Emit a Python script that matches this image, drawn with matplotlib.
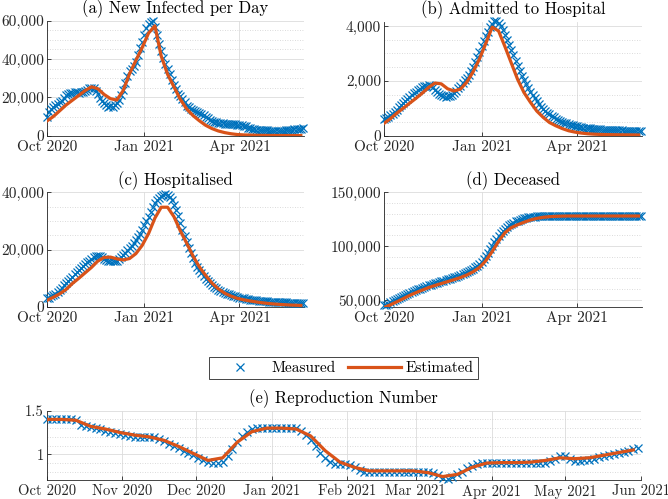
import numpy as np
import pandas as pd
import matplotlib
matplotlib.use("Agg")
import matplotlib.pyplot as plt
import matplotlib.dates as mdates
from matplotlib.ticker import FuncFormatter, MultipleLocator, FixedLocator

plt.rcParams["font.family"] = ["cmr10", "DejaVu Serif"]
plt.rcParams["axes.formatter.use_mathtext"] = True

BLUE = "#0072BD"
ORANGE = "#D95319"

START = "2020-10-01"

# ---------------------------------------------------------------------------
# Data read off the reference (measured every 2 days, estimated every 6 days)
# ---------------------------------------------------------------------------
infected_meas = [
    10000, 12500, 14000, 15000, 16200, 16500, 17500, 18000, 19500, 21000,
    21500, 22300, 22500, 22800, 23000, 22500, 22800, 23000, 23500, 24000,
    24800, 25000, 24800, 23500, 21500, 19500, 18000, 16800, 15800, 15200,
    15500, 15000, 16000, 17000, 18500, 21000, 24000, 27500, 31000, 33500,
    35000, 36500, 38500, 42000, 45500, 49000, 52500, 56000, 58500, 59500,
    60000, 56500, 52500, 48000, 44000, 40500, 37500, 35000, 32000, 29000,
    26500, 24500, 22000, 20500, 19000, 17500, 15500, 15000, 14000, 13500,
    13000, 12600, 12000, 11300, 10600, 9800, 9200, 8400, 7600, 7200,
    7000, 6800, 6600, 6400, 6300, 6200, 6100, 6000, 6000, 6000,
    5800, 5700, 5500, 5200, 4800, 4200, 3800, 3500, 3300, 3100,
    3000, 3000, 2900, 2800, 2800, 2700, 2700, 2700, 2600, 2600,
    2600, 2700, 2700, 2800, 2900, 3000, 3200, 3300, 3500, 3700,
    3600, 4000,
]
infected_est = [
    7700, 10000, 13000, 16000, 18500, 21000, 23500, 25500, 24500, 21500,
    19300, 18600, 23500, 32300, 39200, 46000, 53500, 57300, 41500, 32000,
    25500, 19000, 14000, 10500, 7800, 5400, 3700, 2450, 1600, 1000,
    600, 400, 300, 200, 150, 120, 100, 90, 80, 70,
    60,
]

admitted_meas = [
    600, 630, 680, 740, 800, 860, 950, 1030, 1110, 1180,
    1260, 1340, 1420, 1490, 1550, 1610, 1660, 1710, 1760, 1800,
    1830, 1850, 1820, 1760, 1680, 1600, 1530, 1470, 1430, 1420,
    1430, 1460, 1500, 1560, 1640, 1740, 1830, 1920, 2020, 2120,
    2230, 2370, 2520, 2700, 2880, 3070, 3260, 3450, 3630, 3800,
    3950, 4080, 4180, 4200, 4120, 3990, 3850, 3680, 3500, 3310,
    3120, 2930, 2740, 2550, 2360, 2190, 2030, 1880, 1740, 1610,
    1480, 1360, 1250, 1150, 1060, 980, 910, 840, 780, 720,
    670, 620, 580, 540, 505, 475, 445, 420, 395, 375,
    355, 340, 325, 310, 295, 285, 275, 265, 255, 245,
    240, 235, 230, 225, 220, 215, 210, 205, 200, 198,
    195, 192, 190, 188, 185, 182, 180, 178, 175, 172,
    170, 168,
]
admitted_est = [
    450, 620, 820, 1000, 1180, 1360, 1550, 1760, 1920, 1890,
    1710, 1630, 1700, 1950, 2330, 2800, 3370, 3960, 3820, 3250,
    2650, 2050, 1570, 1220, 900, 670, 480, 360, 260, 180,
    130, 95, 70, 55, 45, 40, 35, 32, 30, 28,
    25,
]

hosp_meas = [
    3000, 3300, 3700, 4200, 4700, 5300, 6000, 6700, 7500, 8300,
    9100, 9900, 10600, 11400, 12200, 12900, 13600, 14200, 14900, 15600,
    16100, 16700, 17300, 17700, 17900, 17800, 17300, 16800, 16500, 16200,
    16000, 16000, 16000, 16200, 16700, 17300, 18000, 18900, 19800, 20500,
    21300, 22300, 23300, 24400, 25600, 27000, 28600, 30000, 31300, 33000,
    34800, 36200, 37300, 38100, 38800, 39200, 39400, 39000, 38300, 37300,
    35700, 33800, 31700, 29300, 27000, 24900, 22700, 20700, 18700, 17000,
    15500, 14100, 12800, 11700, 10700, 9800, 9000, 8300, 7600, 7000,
    6500, 6000, 5600, 5200, 4900, 4600, 4400, 4100, 3900, 3700,
    3500, 3300, 3100, 3000, 2800, 2700, 2600, 2500, 2400, 2300,
    2200, 2150, 2100, 2000, 1950, 1900, 1850, 1800, 1750, 1700,
    1680, 1650, 1600, 1570, 1550, 1520, 1500, 1450, 1420, 1400,
    1380, 1350,
]
hosp_est = [
    2300, 3400, 4600, 6100, 8200, 10000, 11900, 13800, 16000, 17300,
    17400, 16800, 16400, 16900, 18600, 21500, 25600, 31000, 34800, 34800,
    31500, 26600, 22300, 17800, 14000, 11000, 8300, 6300, 4800, 3800,
    3000, 2500, 2100, 1750, 1450, 1200, 1000, 850, 720, 620,
    540,
]

deceased_meas = [
    45000, 45800, 46700, 47700, 48700, 49700, 50700, 51700, 52700, 53700,
    54600, 55500, 56500, 57400, 58200, 59000, 59800, 60600, 61300, 62000,
    62800, 63500, 64200, 64800, 65500, 66100, 66700, 67300, 67900, 68500,
    69100, 69700, 70300, 71000, 71700, 72300, 73000, 73800, 74600, 75700,
    76700, 77800, 79000, 80400, 82000, 83500, 85500, 87700, 90800, 93800,
    96900, 100200, 103500, 106500, 109300, 111900, 114000, 116000, 117800, 119300,
    120700, 121900, 122900, 123800, 124500, 125200, 125800, 126300, 126700, 127000,
    127300, 127500, 127700, 127800, 127900, 128000, 128000, 128100, 128100, 128100,
    128100, 128100, 128200, 128200, 128200, 128200, 128200, 128200, 128200, 128200,
    128200, 128200, 128200, 128200, 128300, 128300, 128300, 128300, 128300, 128300,
    128300, 128300, 128300, 128300, 128300, 128300, 128300, 128300, 128300, 128300,
    128300, 128300, 128300, 128300, 128300, 128300, 128300, 128300, 128300, 128300,
    128300, 128300,
]
deceased_est = [
    43000, 45500, 48300, 51200, 54200, 56800, 59200, 61500, 63500, 65300,
    67100, 68900, 70800, 73200, 76200, 80200, 86500, 95000, 104500, 112500,
    117200, 119900, 122200, 124300, 125800, 126800, 127400, 127700, 127900, 128000,
    128000, 128000, 128000, 128000, 128000, 128000, 128000, 128000, 128000, 128000,
    128000,
]

repro_meas = [
    1.40, 1.40, 1.40, 1.40, 1.40, 1.40, 1.39, 1.34, 1.32, 1.31,
    1.30, 1.29, 1.27, 1.26, 1.24, 1.23, 1.22, 1.21, 1.20, 1.20,
    1.20, 1.20, 1.20, 1.18, 1.15, 1.12, 1.10, 1.07, 1.04, 1.02,
    0.99, 0.96, 0.93, 0.91, 0.90, 0.90, 0.91, 0.98, 1.06, 1.14,
    1.21, 1.26, 1.29, 1.30, 1.30, 1.30, 1.30, 1.30, 1.30, 1.30,
    1.30, 1.30, 1.27, 1.22, 1.16, 1.09, 1.02, 0.96, 0.91, 0.89,
    0.89, 0.89, 0.88, 0.85, 0.82, 0.80, 0.80, 0.80, 0.80, 0.80,
    0.80, 0.80, 0.80, 0.80, 0.80, 0.80, 0.80, 0.80, 0.80, 0.79,
    0.76, 0.73, 0.72, 0.74, 0.77, 0.80, 0.84, 0.87, 0.89, 0.90,
    0.90, 0.90, 0.90, 0.90, 0.90, 0.90, 0.90, 0.90, 0.90, 0.90,
    0.90, 0.90, 0.90, 0.92, 0.95, 0.98, 0.98, 0.95, 0.92, 0.92,
    0.93, 0.94, 0.95, 0.97, 0.98, 0.99, 1.00, 1.02, 1.03, 1.04,
    1.06, 1.07,
]
repro_est = [
    1.40, 1.40, 1.39, 1.32, 1.29, 1.25, 1.22, 1.20, 1.16, 1.09,
    1.01, 0.93, 0.96, 1.14, 1.26, 1.30, 1.30, 1.29, 1.21, 1.04,
    0.91, 0.85, 0.81, 0.81, 0.81, 0.81, 0.79, 0.745, 0.77, 0.85,
    0.90, 0.905, 0.905, 0.91, 0.93, 0.96, 0.95, 0.96, 0.99, 1.02,
    1.05,
]

MEAS_STEP = 2
EST_STEP = 6


def dates(values, step):
    return pd.date_range(START, periods=len(values), freq=f"{step}D")


def thousands(v, _pos):
    return f"{v:,.0f}"


def style_axes(ax, labelsize=11):
    for side in ("top", "right"):
        ax.spines[side].set_visible(False)
    for side in ("left", "bottom"):
        ax.spines[side].set_color("#262626")
        ax.spines[side].set_linewidth(0.6)
    ax.tick_params(which="both", direction="in", colors="#262626",
                   labelsize=labelsize, width=0.6)
    ax.tick_params(axis="y", which="major", length=3, pad=2)
    ax.tick_params(axis="x", which="major", length=3, pad=3)
    ax.tick_params(which="minor", length=0)
    ax.grid(True, which="major", color="#dcdcdc", linewidth=0.6)
    ax.grid(True, which="minor", axis="y", color="#cfcfcf",
            linestyle=(0, (1, 2)), linewidth=0.6)
    ax.set_axisbelow(True)


def draw(ax, meas, est):
    hm, = ax.plot(dates(meas, MEAS_STEP), meas, linestyle="none", marker="x",
                  markersize=5.2, markeredgewidth=0.9, color=BLUE,
                  clip_on=False, zorder=3)
    he, = ax.plot(dates(est, EST_STEP), est, color=ORANGE, linewidth=2.3,
                  zorder=4)
    return hm, he


fig = plt.figure(figsize=(6.68, 4.99), dpi=100)

panels = [
    ("(a) New Infected per Day", infected_meas, infected_est,
     [0.0704, 0.7281, 0.3847, 0.2305], (0, 60000), 20000, 5000),
    ("(b) Admitted to Hospital", admitted_meas, admitted_est,
     [0.5749, 0.7281, 0.3858, 0.2285], (0, 4160), 2000, 500),
    ("(c) Hospitalised", hosp_meas, hosp_est,
     [0.0704, 0.3848, 0.3847, 0.2298], (0, 40000), 20000, 5000),
    ("(d) Deceased", deceased_meas, deceased_est,
     [0.5749, 0.3848, 0.3858, 0.2298], (43500, 150000), 50000, 10000),
]

xmin = pd.Timestamp("2020-10-01")
xmax = pd.Timestamp("2021-06-01")

handles = None
for title, meas, est, rect, ylim, major, minor in panels:
    ax = fig.add_axes(rect)
    style_axes(ax)
    hm, he = draw(ax, meas, est)
    if handles is None:
        handles = [hm, he]
    ax.set_xlim(xmin, xmax)
    ax.set_ylim(*ylim)
    ax.yaxis.set_major_locator(MultipleLocator(major))
    ax.yaxis.set_minor_locator(MultipleLocator(minor))
    ax.yaxis.set_major_formatter(FuncFormatter(thousands))
    ax.xaxis.set_major_locator(mdates.MonthLocator(bymonth=(1, 4, 7, 10)))
    ax.xaxis.set_major_formatter(mdates.DateFormatter("%b %Y"))
    ax.set_title(title, fontsize=12, pad=5.5, color="black")

# (e) reproduction number
ax = fig.add_axes([0.0699, 0.0371, 0.8892, 0.1399])
style_axes(ax, labelsize=10.5)
draw(ax, repro_meas, repro_est)
ax.set_xlim(xmin, xmax)
ax.set_ylim(0.7, 1.5)
ax.yaxis.set_major_locator(FixedLocator([1.0, 1.5]))
ax.yaxis.set_minor_locator(MultipleLocator(0.1))
ax.yaxis.set_major_formatter(FuncFormatter(lambda v, p: f"{v:g}"))
ax.xaxis.set_major_locator(mdates.MonthLocator())
ax.xaxis.set_major_formatter(mdates.DateFormatter("%b %Y"))
ax.set_title("(e) Reproduction Number", fontsize=12, pad=5.5, color="black")

leg = fig.legend(handles, ["Measured", "Estimated"], loc="center",
                 bbox_to_anchor=(0.5142, 0.2625), ncol=2, fontsize=11,
                 frameon=True, fancybox=False, framealpha=1,
                 edgecolor="#262626", handlelength=3.5, handletextpad=0.3,
                 columnspacing=0.8, borderpad=0.3, markerscale=1.1)
leg.get_frame().set_linewidth(0.6)

fig.savefig("out.png", dpi=100)
